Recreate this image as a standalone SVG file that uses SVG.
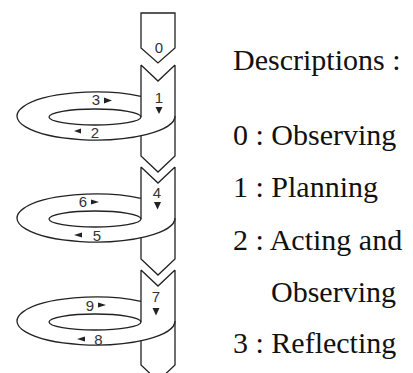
<svg xmlns="http://www.w3.org/2000/svg" width="413" height="373" viewBox="0 0 413 373">
  <style>
    .ln { fill: none; stroke: #222; stroke-width: 1.3; stroke-linejoin: miter; }
    .num { font-family: "Liberation Sans", Arial, sans-serif; font-size: 15px; fill: #333; text-anchor: middle; }
    .tri { fill: #222; stroke: none; }
    .leg { font-family: "Liberation Serif", "Times New Roman", serif; font-size: 30px; fill: #111; }
  </style>
  <rect width="413" height="373" fill="#fff"/>

  <g id="block-0">
    <path class="ln" d="M141 13 L175 13 L175 48 L158 63 L141 48 Z"/>
    <text class="num" x="159" y="53">0</text>
  </g>

  <g id="cycle-1">
    <path class="ln" d="M141 65 L158 81 L175 65 M141 65 L141 117 M175 65 L175 156 L158 172 L141 156 L141 135.7"/>
    <path class="ln" d="M141 96.3 A79 24 0 1 0 175 116"/>
    <ellipse class="ln" cx="95" cy="117" rx="46" ry="8"/>
    <text class="num" x="159" y="103">1</text>
    <path class="tri" d="M155.5 107 L162.5 107 L159 114 Z"/>
    <text class="num" x="96" y="105">3</text>
    <path class="tri" d="M104 97.5 L112 100.5 L104 103.5 Z"/>
    <path class="tri" d="M81 128.5 L74 131 L81 133.5 Z"/>
    <text class="num" x="95" y="138">2</text>
  </g>

  <g id="cycle-2">
    <path class="ln" d="M141 167 L158 183 L175 167 M141 167 L141 219 M175 167 L175 259 L158 275 L141 259 L141 237.7"/>
    <path class="ln" d="M141 198.3 A79 24 0 1 0 175 218"/>
    <ellipse class="ln" cx="95" cy="219" rx="46" ry="8"/>
    <text class="num" x="157" y="198">4</text>
    <path class="tri" d="M154 202 L161 202 L157.5 209.5 Z"/>
    <text class="num" x="83" y="207">6</text>
    <path class="tri" d="M91 199.5 L99 202 L91 204.5 Z"/>
    <path class="tri" d="M82 232.5 L74 235 L82 237.5 Z"/>
    <text class="num" x="97" y="241">5</text>
  </g>

  <g id="cycle-3">
    <path class="ln" d="M141 270 L158 286 L175 270 M141 270 L141 322 M175 270 L175 365 L158 381 L141 365 L141 340.7"/>
    <path class="ln" d="M141 301.3 A79 24 0 1 0 175 321"/>
    <ellipse class="ln" cx="95" cy="322" rx="46" ry="8"/>
    <text class="num" x="156" y="302">7</text>
    <path class="tri" d="M152.5 308 L159.5 308 L156 315.5 Z"/>
    <text class="num" x="90" y="311">9</text>
    <path class="tri" d="M98 302.5 L106 305 L98 307.5 Z"/>
    <path class="tri" d="M85 336.5 L77 339 L85 341.5 Z"/>
    <text class="num" x="98.5" y="345">8</text>
  </g>

  <g id="legend">
    <text class="leg" x="233" y="70">Descriptions :</text>
    <text class="leg" x="233" y="145">0 : Observing</text>
    <text class="leg" x="233" y="197">1 : Planning</text>
    <text class="leg" x="233" y="250">2 : Acting and</text>
    <text class="leg" x="271" y="302">Observing</text>
    <text class="leg" x="233" y="353">3 : Reflecting</text>
  </g>
</svg>
